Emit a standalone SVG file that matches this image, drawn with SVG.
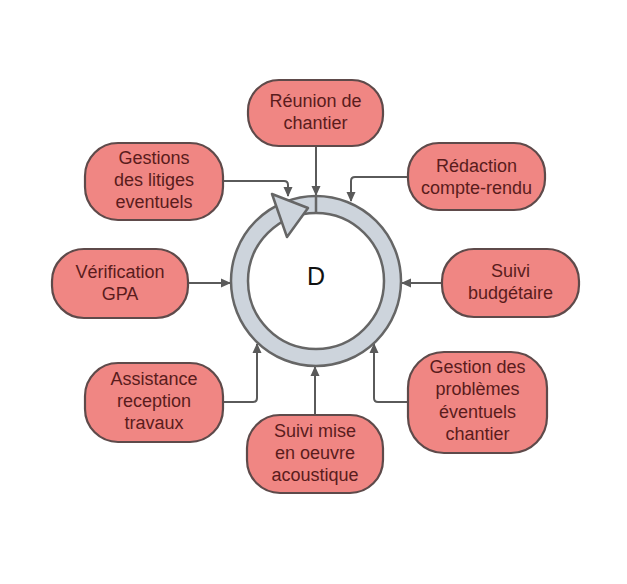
<svg xmlns="http://www.w3.org/2000/svg" width="627" height="584" viewBox="0 0 627 584">
<style>
.node rect{fill:#f08683;stroke:#5e4a4a;stroke-width:2.2}
.node text{font-family:"Liberation Sans",Arial,sans-serif;font-size:18px;fill:#5a1c1c;text-anchor:middle}
.conn path{fill:none;stroke:#5a5a5a;stroke-width:2}
.ring{fill:none;stroke:#666666;stroke-width:2.5}
</style>
<defs>
<marker id="ah" markerWidth="10" markerHeight="10" refX="9" refY="5" orient="auto" markerUnits="userSpaceOnUse">
<path d="M0,0.5 L10,5 L0,9.5 Z" fill="#5a5a5a"/>
</marker>
</defs>
<rect width="627" height="584" fill="#ffffff"/>
<g id="connectors" class="conn">
<path d="M316,146 L316,195" marker-end="url(#ah)"/>
<path d="M408,177 L355,177 Q351,177 351,181 L351,201" marker-end="url(#ah)"/>
<path d="M223,181 L284,181 Q288,181 288,185 L288,196" marker-end="url(#ah)"/>
<path d="M188,283 L230,283" marker-end="url(#ah)"/>
<path d="M442,283 L402,283" marker-end="url(#ah)"/>
<path d="M223,402 L253,402 Q257,402 257,398 L257,344" marker-end="url(#ah)"/>
<path d="M315,415 L315,367" marker-end="url(#ah)"/>
<path d="M408,402 L378,402 Q374,402 374,398 L374,344" marker-end="url(#ah)"/>
</g>
<g id="cycle">
<circle cx="316" cy="281" r="76.5" fill="none" stroke="#cdd4dc" stroke-width="17"/>
<circle class="ring" cx="316" cy="281" r="85"/>
<circle class="ring" cx="316" cy="281" r="68"/>
<line x1="316" y1="196" x2="316" y2="213" stroke="#666666" stroke-width="2.5"/>
<path d="M272,194 L308,208 L287,237 Z" fill="#cdd4dc" stroke="#666666" stroke-width="2.5" stroke-linejoin="round"/>
<text x="316" y="285" font-family="Liberation Sans,Arial,sans-serif" font-size="25" text-anchor="middle" fill="#111111">D</text>
</g>
<g id="n-reunion" class="node">
<rect x="248" y="80" width="135" height="66" rx="31"/>
<text x="315.5" y="107">Réunion de</text>
<text x="315.5" y="129">chantier</text>
</g>
<g id="n-redaction" class="node">
<rect x="408" y="143" width="137" height="67" rx="31"/>
<text x="476.5" y="172">Rédaction</text>
<text x="476.5" y="194">compte-rendu</text>
</g>
<g id="n-litiges" class="node">
<rect x="85" y="143" width="138" height="77" rx="33"/>
<text x="154" y="164">Gestions</text>
<text x="154" y="186">des litiges</text>
<text x="154" y="208">eventuels</text>
</g>
<g id="n-gpa" class="node">
<rect x="52" y="249" width="136" height="69" rx="32"/>
<text x="120" y="278">Vérification</text>
<text x="120" y="300">GPA</text>
</g>
<g id="n-budget" class="node">
<rect x="442" y="249" width="137" height="68" rx="32"/>
<text x="510.5" y="277">Suivi</text>
<text x="510.5" y="299">budgétaire</text>
</g>
<g id="n-assistance" class="node">
<rect x="85" y="363" width="138" height="79" rx="33"/>
<text x="154" y="385">Assistance</text>
<text x="154" y="407">reception</text>
<text x="154" y="429">travaux</text>
</g>
<g id="n-acoustique" class="node">
<rect x="247" y="415" width="136" height="78" rx="33"/>
<text x="315" y="437">Suivi mise</text>
<text x="315" y="459">en oeuvre</text>
<text x="315" y="481">acoustique</text>
</g>
<g id="n-problemes" class="node">
<rect x="408" y="352" width="139" height="101" rx="36"/>
<text x="477.5" y="373">Gestion des</text>
<text x="477.5" y="395">problèmes</text>
<text x="477.5" y="418">éventuels</text>
<text x="477.5" y="440">chantier</text>
</g>
</svg>
